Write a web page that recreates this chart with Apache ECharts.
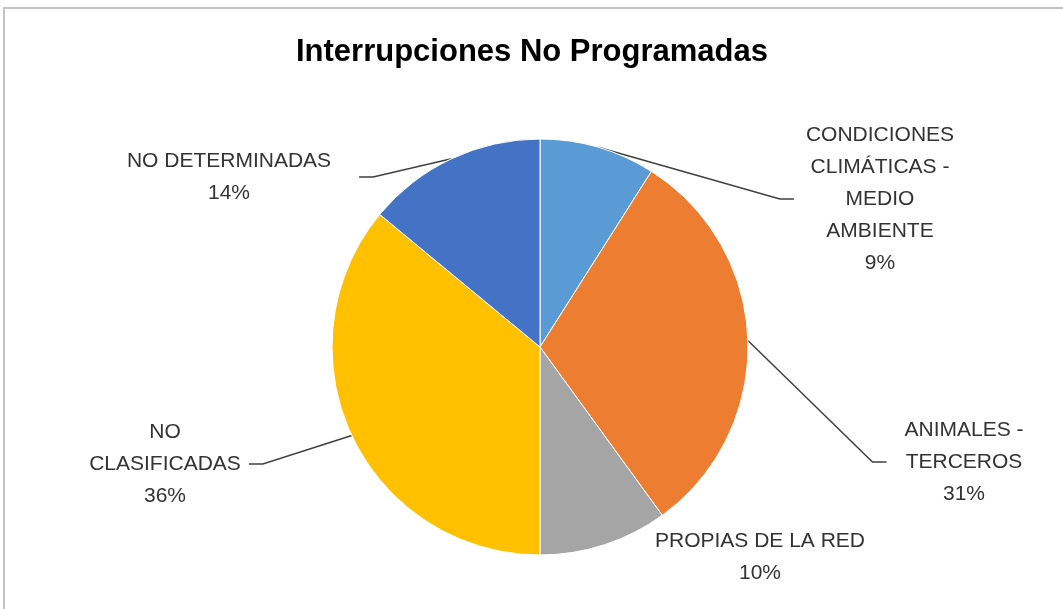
<!DOCTYPE html>
<html>
<head>
<meta charset="utf-8">
<script src="https://cdn.jsdelivr.net/npm/echarts@6/dist/echarts.min.js"></script>
<style>
  html, body { margin: 0; padding: 0; background: #fff; }
  #main { width: 1063px; height: 609px; }
</style>
</head>
<body>
<div id="main"></div>
<script>
// data
const categories = [
  "CONDICIONES CLIMÁTICAS - MEDIO AMBIENTE",
  "ANIMALES - TERCEROS",
  "PROPIAS DE LA RED",
  "NO CLASIFICADAS",
  "NO DETERMINADAS"
];
const labelText = [
  "CONDICIONES\nCLIMÁTICAS -\nMEDIO\nAMBIENTE",
  "ANIMALES -\nTERCEROS",
  "PROPIAS DE LA RED",
  "NO\nCLASIFICADAS",
  "NO DETERMINADAS"
];
const percents = [9, 31, 10, 36, 14];
const colors = ["#5B9BD5", "#ED7D31", "#A5A5A5", "#FFC000", "#4472C4"];

// where each label sits (centre of the text block) and which side its leader enters
const labelPos = [[880, 199], [964, 462], [760, 557], [165, 464], [229, 177]];
const leaderSide = ["left", "left", null, "right", "right"];
const leaderGap = [12, 18, 0, 8, 28];

const chart = echarts.init(document.getElementById("main"));

const option = {
  animation: false,
  title: {
    text: "Interrupciones No Programadas",
    left: 527,
    textAlign: "center",
    top: 32,
    textStyle: {
      fontFamily: "Liberation Sans",
      fontSize: 31,
      fontWeight: "bold",
      color: "#000"
    }
  },
  graphic: [{
    type: "rect",
    shape: { x: 4, y: 8, width: 1100, height: 700 },
    style: { fill: "none", stroke: "#c4c4c4", lineWidth: 2 },
    silent: true
  }],
  series: [{
    type: "pie",
    center: [540, 347],
    radius: 208,
    startAngle: 90,
    clockwise: true,
    itemStyle: { borderColor: "#fff", borderWidth: 1 },
    label: {
      show: true,
      fontFamily: "Liberation Sans",
      fontSize: 21,
      lineHeight: 32,
      color: "#333",
      align: "center",
      formatter: function (p) {
        return labelText[p.dataIndex] + "\n" + p.value + "%";
      }
    },
    labelLine: {
      show: true,
      length: 20,
      length2: 10,
      smooth: false,
      lineStyle: { color: "#404040", width: 1.5 }
    },
    labelLayout: function (params) {
      const i = params.dataIndex;
      const w = params.labelRect.width;
      const pos = labelPos[i];
      const res = { x: pos[0], y: pos[1], align: "center", verticalAlign: "middle" };
      if (leaderSide[i] && params.labelLinePoints) {
        const p0 = params.labelLinePoints[0];
        let endX, bendX;
        if (leaderSide[i] === "left") {
          endX = pos[0] - w / 2 - leaderGap[i];
          bendX = endX - 14;
        } else {
          endX = pos[0] + w / 2 + leaderGap[i];
          bendX = endX + 14;
        }
        res.labelLinePoints = [[p0[0], p0[1]], [bendX, pos[1]], [endX, pos[1]]];
      }
      return res;
    },
    data: categories.map(function (name, i) {
      const item = { name: name, value: percents[i], itemStyle: { color: colors[i] } };
      if (!leaderSide[i]) item.labelLine = { show: false };
      return item;
    })
  }]
};

chart.setOption(option);
</script>
</body>
</html>
